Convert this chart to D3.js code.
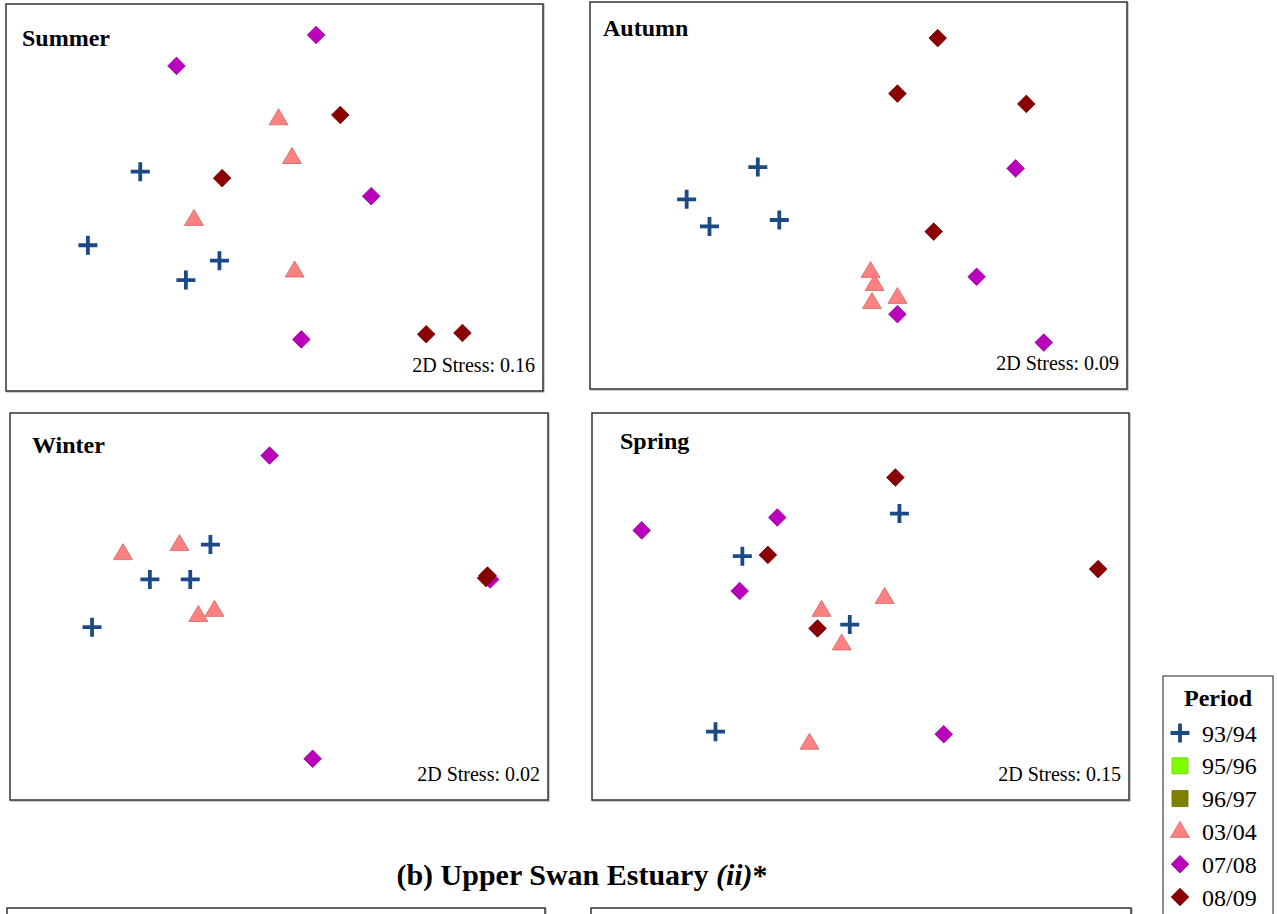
<!DOCTYPE html>
<head>
  <meta charset="utf-8">
  <script src="https://d3js.org/d3.v7.min.js"></script>
  <style>
  body,html {margin:0; background:#fff; font-family:"Liberation Serif", serif;}
  .ttl {font-weight:bold; font-size:24px;}
  .stress {font-size:20px;}
  </style>
</head>
<body>
<script>

// periods (legend order)
const periods = ["93/94", "95/96", "96/97", "03/04", "07/08", "08/09"];
const periodShape = ["cross", "square", "square", "triangle", "diamond", "diamond"];
const periodColor = ["#1b4a87", "#80ff00", "#808000", "#ff8080", "#bb00bb", "#8b0000"];

// nMDS ordination points: [period, axis1, axis2]
const summerPts = [
  ["93/94", -1.00, 0.20], ["93/94", -1.39, -0.37], ["93/94", -0.66, -0.64], ["93/94", -0.41, -0.49],
  ["03/04", 0.03, 0.61], ["03/04", 0.13, 0.31], ["03/04", -0.60, -0.17], ["03/04", 0.15, -0.57],
  ["07/08", 0.31, 1.26], ["07/08", -0.73, 1.02], ["07/08", 0.72, 0.01], ["07/08", 0.20, -1.10],
  ["08/09", 0.49, 0.64], ["08/09", -0.39, 0.15], ["08/09", 1.13, -1.06], ["08/09", 1.40, -1.05]
];
const autumnPts = [
  ["93/94", -0.75, 0.22], ["93/94", -1.28, -0.03], ["93/94", -1.11, -0.24], ["93/94", -0.59, -0.19],
  ["03/04", 0.09, -0.59], ["03/04", 0.12, -0.69], ["03/04", 0.10, -0.83], ["03/04", 0.29, -0.79],
  ["07/08", 1.17, 0.21], ["07/08", 0.88, -0.63], ["07/08", 0.29, -0.92], ["07/08", 1.38, -1.14],
  ["08/09", 0.59, 1.22], ["08/09", 0.29, 0.79], ["08/09", 1.25, 0.71], ["08/09", 0.56, -0.28]
];
const winterPts = [
  ["93/94", -0.51, 0.48], ["93/94", -0.96, 0.21], ["93/94", -0.66, 0.21], ["93/94", -1.39, -0.16],
  ["03/04", -1.16, 0.41], ["03/04", -0.74, 0.48], ["03/04", -0.60, -0.07], ["03/04", -0.48, -0.03],
  ["07/08", -0.07, 1.17], ["07/08", 1.57, 0.21], ["07/08", 0.25, -1.18],
  ["08/09", 1.55, 0.24], ["08/09", 1.54, 0.22]
];
const springPts = [
  ["93/94", 0.29, 0.72], ["93/94", -0.88, 0.39], ["93/94", -0.08, -0.14], ["93/94", -1.08, -0.97],
  ["03/04", -0.29, -0.03], ["03/04", 0.18, 0.07], ["03/04", -0.14, -0.29], ["03/04", -0.38, -1.06],
  ["07/08", -1.63, 0.59], ["07/08", -0.62, 0.69], ["07/08", -0.90, 0.12], ["07/08", 0.62, -0.99],
  ["08/09", 0.26, 1.00], ["08/09", -0.69, 0.40], ["08/09", -0.32, -0.17], ["08/09", 1.77, 0.29]
];

const seasons = ["Summer", "Autumn", "Winter", "Spring"];
const stressVals = ["0.16", "0.09", "0.02", "0.15"];
const seasonPts = [summerPts, autumnPts, winterPts, springPts];
const heading = "(b) Upper Swan Estuary ";

// panel boxes on the page
const boxes = [
  {x: 6, y: 4, w: 537, h: 387, tx: 16, ty: 42},
  {x: 590, y: 2, w: 537, h: 387, tx: 13, ty: 34},
  {x: 10, y: 413, w: 538, h: 387, tx: 22, ty: 40},
  {x: 592, y: 413, w: 537, h: 387, tx: 28, ty: 36}
];

const svg = d3.select("body").append("svg")
  .attr("width", 1277).attr("height", 914);

function markerPath(shape) {
  if (shape == "triangle") return "M0,-10L9.5,6L-9.5,6Z";
  if (shape == "diamond") return "M0,-8.8L8.8,0L0,8.8L-8.8,0Z";
  if (shape == "square") return "M-8,-8H8V8H-8Z";
  return "M-9.5,0H9.5M0,-9.5V9.5";
}

function drawMarker(g, period) {
  const i = periods.indexOf(period);
  const shape = periodShape[i];
  const p = g.append("path").attr("d", markerPath(shape));
  if (shape == "cross") {
    p.attr("fill", "none").attr("stroke", periodColor[i]).attr("stroke-width", 3.8);
  } else {
    p.attr("fill", periodColor[i])
      .attr("stroke", d3.color(periodColor[i]).darker(0.6))
      .attr("stroke-width", 0.8);
  }
}

const order = ["93/94", "03/04", "07/08", "08/09"];

seasons.forEach((s, k) => {
  const b = boxes[k];
  const g = svg.append("g").attr("transform", `translate(${b.x},${b.y})`);
  g.append("rect").attr("x", 1).attr("y", 1).attr("width", b.w).attr("height", b.h)
    .attr("fill", "none").attr("stroke", "#bbb").attr("stroke-width", 1.5);
  g.append("rect").attr("width", b.w).attr("height", b.h)
    .attr("fill", "#fff").attr("stroke", "#333").attr("stroke-width", 1.5);

  const x = d3.scaleLinear().domain([-2, 2]).range([0, b.w]);
  const y = d3.scaleLinear().domain([1.5, -1.5]).range([0, b.h]);

  const pts = seasonPts[k].slice().sort((a, c) => order.indexOf(a[0]) - order.indexOf(c[0]));
  pts.forEach(d => {
    const m = g.append("g").attr("transform", `translate(${x(d[1])},${y(d[2])})`);
    drawMarker(m, d[0]);
  });

  g.append("text").attr("class", "ttl").attr("x", b.tx).attr("y", b.ty).text(s);
  g.append("text").attr("class", "stress").attr("text-anchor", "end")
    .attr("x", b.w - 8).attr("y", b.h - 19).text("2D Stress: " + stressVals[k]);
});

// heading for the next block
const h = svg.append("text").attr("x", 582).attr("y", 885)
  .attr("text-anchor", "middle").style("font-size", "30px").style("font-weight", "bold");
h.append("tspan").text(heading);
h.append("tspan").style("font-style", "italic").text("(ii)");
h.append("tspan").text("*");

// top edges of the next row of panels
[{x: 7, w: 538}, {x: 591, w: 540}].forEach(b => {
  svg.append("rect").attr("x", b.x + 1).attr("y", 909).attr("width", b.w).attr("height", 40)
    .attr("fill", "none").attr("stroke", "#bbb").attr("stroke-width", 1.5);
  svg.append("rect").attr("x", b.x).attr("y", 908).attr("width", b.w).attr("height", 40)
    .attr("fill", "#fff").attr("stroke", "#333").attr("stroke-width", 1.5);
});

// legend
const lg = svg.append("g").attr("transform", "translate(1163,676)");
lg.append("rect").attr("width", 110).attr("height", 260)
  .attr("fill", "#fff").attr("stroke", "#444").attr("stroke-width", 1.2);
lg.append("text").attr("x", 55).attr("y", 30).attr("text-anchor", "middle")
  .style("font-size", "24px").style("font-weight", "bold").text("Period");
periods.forEach((p, i) => {
  const row = lg.append("g").attr("transform", `translate(17,${57 + i * 32.8})`);
  drawMarker(row, p);
  row.append("text").attr("x", 22).attr("y", 8.5).style("font-size", "24px").text(p);
});

</script>
</body>
